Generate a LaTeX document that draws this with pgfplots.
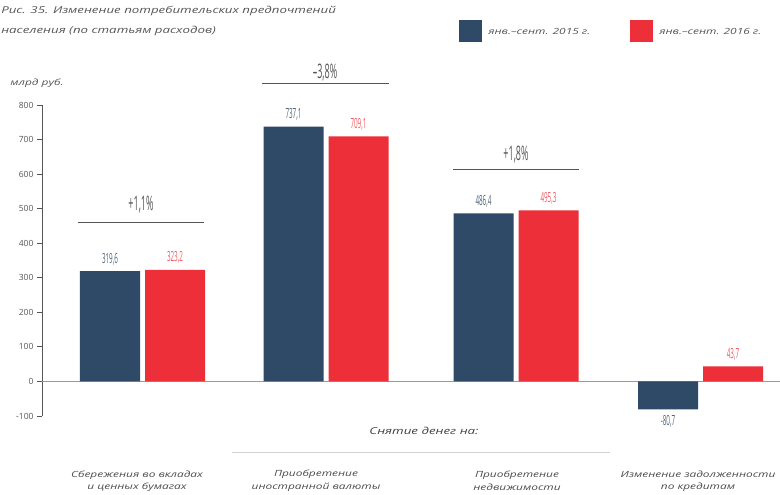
\documentclass[border=0pt]{standalone}
\usepackage{fontspec}
\setmainfont{Open Sans}
\usepackage{graphicx}
\usepackage{pgfplots}
\pgfplotsset{compat=1.18}
\definecolor{cdark}{HTML}{2F4A66}
\definecolor{cred}{HTML}{EC2F38}
\definecolor{txt}{HTML}{555555}
\definecolor{lbldark}{HTML}{4F6478}
\definecolor{lblred}{HTML}{EE5A60}
\newcommand{\cond}[1]{\scalebox{0.45}[1]{#1}}
\tikzset{wide/.style={xscale=1.4, transform shape}}
\begin{document}
\begin{tikzpicture}
\useasboundingbox (0,0) rectangle (780pt,-495pt);
% title
\node[wide, anchor=west, font=\fontsize{9.5}{11}\selectfont\itshape, text=txt, inner sep=0pt] at (1pt,-11pt) {Рис. 35. Изменение потребительских предпочтений};
\node[wide, anchor=west, font=\fontsize{9.5}{11}\selectfont\itshape, text=txt, inner sep=0pt] at (1pt,-31pt) {населения (по статьям расходов)};
% legend
\fill[cdark] (459pt,-20pt) rectangle (482pt,-42pt);
\node[wide, anchor=west, font=\fontsize{8.5}{9}\selectfont\itshape, text=txt, inner sep=0pt] at (488pt,-31pt) {янв.–сент. 2015 г.};
\fill[cred] (630pt,-20pt) rectangle (653pt,-42pt);
\node[wide, anchor=west, font=\fontsize{8.5}{9}\selectfont\itshape, text=txt, inner sep=0pt] at (659pt,-31pt) {янв.–сент. 2016 г.};
% y unit
\node[wide, font=\fontsize{8.5}{9}\selectfont\itshape, text=txt, inner sep=0pt] at (37pt,-83pt) {млрд руб.};
\begin{axis}[
  at={(42pt,-416pt)}, anchor=south west,
  scale only axis, width=738pt, height=311pt,
  xmin=42, xmax=780, ymin=-100, ymax=800,
  axis x line=none, axis y line*=left,
  y axis line style={draw=txt, line width=0.8pt},
  ytick={-100,0,100,200,300,400,500,600,700,800},
  tick align=outside, major tick length=5pt,
  ytick style={draw=txt, line width=0.8pt},
  yticklabel style={font=\fontsize{8.5}{9}\selectfont, text=txt},
  /pgf/number format/assume math mode=true,
  clip=false,
  ybar=5pt, bar width=60pt,
  nodes near coords={\cond{\pgfmathprintnumber[use comma,fixed,precision=1,fixed zerofill,assume math mode=true]{\pgfplotspointmeta}}},
  nodes near coords align=vertical,
  nodes near coords style={font=\fontsize{14}{15}\selectfont, inner sep=1pt, outer sep=5pt},
]
\draw[draw=gray!80, line width=0.8pt] (axis cs:42,0) -- (axis cs:780,0);
\addplot[fill=cdark, draw=none, every node near coord/.append style={text=lbldark}]
  coordinates {(142.5,319.6) (326,737.1) (516,486.4) (700.5,-80.7)};
\addplot[fill=cred, draw=none, every node near coord/.append style={text=lblred}]
  coordinates {(142.5,323.2) (326,709.1) (516,495.3) (700.5,43.7)};
% group comparison lines
\draw[txt, line width=1.2pt] (axis cs:78,461) -- (axis cs:204,461);
\node[text=txt, font=\fontsize{20}{21}\selectfont] at (axis cs:141,513) {\cond{+1,1\%}};
\draw[txt, line width=1.2pt] (axis cs:262,862) -- (axis cs:389,862);
\node[text=txt, font=\fontsize{20}{21}\selectfont] at (axis cs:325,893) {\cond{–3,8\%}};
\draw[txt, line width=1.2pt] (axis cs:453,613) -- (axis cs:579,613);
\node[text=txt, font=\fontsize{20}{21}\selectfont] at (axis cs:516,657) {\cond{+1,8\%}};
\end{axis}
% bottom labels
\node[wide, font=\fontsize{9.5}{10}\selectfont\itshape, text=black!75] at (424pt,-431pt) {Снятие денег на:};
\draw[gray!35, line width=1pt] (232pt,-452pt) -- (610pt,-452pt);
\node[wide, align=center, font=\fontsize{8.5}{12.5}\selectfont\itshape, text=black!70] at (137pt,-481pt) {Сбережения во вкладах\\и ценных бумагах};
\node[wide, align=center, font=\fontsize{8.5}{12.5}\selectfont\itshape, text=black!70] at (316pt,-481pt) {Приобретение\\иностранной валюты};
\node[wide, align=center, font=\fontsize{8.5}{12.5}\selectfont\itshape, text=black!70] at (517pt,-481pt) {Приобретение\\недвижимости};
\node[wide, align=center, font=\fontsize{8.5}{12.5}\selectfont\itshape, text=black!70] at (698pt,-481pt) {Изменение задолженности\\по кредитам};
\end{tikzpicture}
\end{document}
